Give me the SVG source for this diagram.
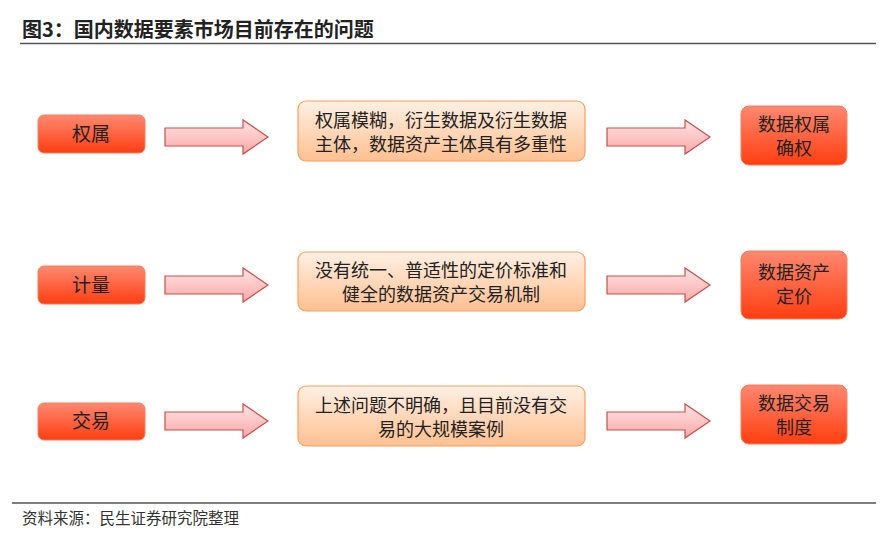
<svg xmlns="http://www.w3.org/2000/svg" width="891" height="537" viewBox="0 0 891 537">
<style>
text{font-family:"Noto Sans CJK SC","Noto Sans",sans-serif;fill:#222}
.t{font-size:19px;text-anchor:middle}
.m{font-size:18px;text-anchor:middle}
.red{fill:url(#gr);stroke:#f08060;stroke-width:1}
.mid{fill:url(#go);stroke:#f5a060;stroke-width:1.2}
.arr{fill:url(#ga);stroke:#c8504a;stroke-width:1.2}
</style>
<defs>
<linearGradient id="gr" x1="0" y1="0" x2="0" y2="1"><stop offset="0" stop-color="#ff8870"/><stop offset="1" stop-color="#ff3e10"/></linearGradient>
<linearGradient id="go" x1="0" y1="0" x2="0" y2="1"><stop offset="0" stop-color="#fff0e4"/><stop offset="1" stop-color="#ffc090"/></linearGradient>
<linearGradient id="ga" x1="0" y1="0" x2="0" y2="1"><stop offset="0" stop-color="#ffe4e4"/><stop offset="1" stop-color="#f9a8a8"/></linearGradient>
<path id="arrow" d="M0,6 H78 V-2 L103,15 L78,32 V24 H0 Z"/>
</defs>
<text x="22" y="37" style="font-size:20px;font-weight:bold">图3：国内数据要素市场目前存在的问题</text>
<line x1="20" y1="43.5" x2="876" y2="43.5" stroke="#555" stroke-width="1.5"/>
<line x1="12" y1="503" x2="876" y2="503" stroke="#555" stroke-width="1.5"/>
<text x="22" y="524" style="font-size:15.5px;fill:#333">资料来源：民生证券研究院整理</text>
<g id="connectors">
<use href="#arrow" class="arr" x="165" y="122"/>
<use href="#arrow" class="arr" x="607" y="122"/>
<use href="#arrow" class="arr" x="165" y="270"/>
<use href="#arrow" class="arr" x="607" y="270"/>
<use href="#arrow" class="arr" x="165" y="406"/>
<use href="#arrow" class="arr" x="607" y="406"/>
</g>
<g id="n1"><rect class="red" x="38" y="115" width="107" height="38" rx="6"/><text class="t" x="91" y="141">权属</text></g>
<g id="n2"><rect class="mid" x="298" y="101" width="287" height="60" rx="8"/><text class="m" x="441" y="127">权属模糊，衍生数据及衍生数据</text><text class="m" x="441" y="151">主体，数据资产主体具有多重性</text></g>
<g id="n3"><rect class="red" x="741" y="106" width="106" height="59" rx="8"/><text class="m" x="794" y="131">数据权属</text><text class="m" x="794" y="155">确权</text></g>
<g id="n4"><rect class="red" x="38" y="266" width="107" height="38" rx="6"/><text class="t" x="91" y="292">计量</text></g>
<g id="n5"><rect class="mid" x="298" y="252" width="287" height="59" rx="8"/><text class="m" x="441" y="277">没有统一、普适性的定价标准和</text><text class="m" x="441" y="301">健全的数据资产交易机制</text></g>
<g id="n6"><rect class="red" x="741" y="251" width="106" height="68" rx="8"/><text class="m" x="794" y="279">数据资产</text><text class="m" x="794" y="303">定价</text></g>
<g id="n7"><rect class="red" x="38" y="403" width="107" height="37" rx="6"/><text class="t" x="91" y="428">交易</text></g>
<g id="n8"><rect class="mid" x="298" y="386" width="287" height="60" rx="8"/><text class="m" x="441" y="412">上述问题不明确，且目前没有交</text><text class="m" x="441" y="436">易的大规模案例</text></g>
<g id="n9"><rect class="red" x="741" y="385" width="106" height="59" rx="8"/><text class="m" x="794" y="410">数据交易</text><text class="m" x="794" y="434">制度</text></g>
</svg>
